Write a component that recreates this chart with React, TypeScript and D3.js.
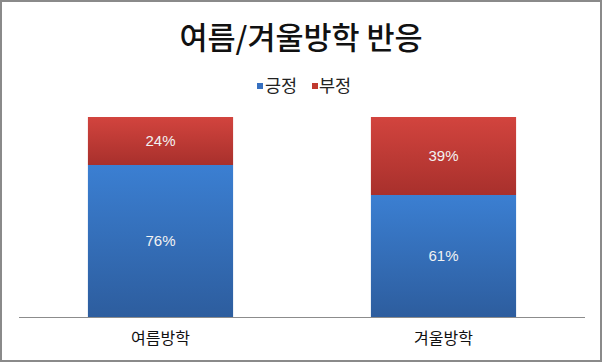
import React from "react";
import * as d3 from "d3";

const categories = ["여름방학", "겨울방학"];
const positive = [0.76, 0.61];
const negative = [0.24, 0.39];
const seriesNames = ["긍정", "부정"];
const title = "여름/겨울방학 반응";

const W = 602;
const H = 362;
const KR = "'Noto Sans CJK KR', 'Noto Sans', sans-serif";

export default function App() {
  const x = d3.scaleBand<string>().domain(categories).range([19, 585]).padding(0);
  const y = d3.scaleLinear().domain([0, 1]).range([317, 117]);
  const barW = x.bandwidth() * 0.513;
  const fmt = d3.format(".0%");

  const stacked = d3
    .stack<{ cat: string; pos: number; neg: number }>()
    .keys(["pos", "neg"])(
      categories.map((c, i) => ({ cat: c, pos: positive[i], neg: negative[i] }))
    );
  const gradIds = ["gBlue", "gRed"];

  return (
    <svg
      width={W}
      height={H}
      style={{ position: "fixed", left: 0, top: 0 }}
      xmlns="http://www.w3.org/2000/svg"
    >
      <defs>
        <linearGradient id="gBlue" x1="0" y1="0" x2="0" y2="1">
          <stop offset="0%" stopColor="#3b7fd2" />
          <stop offset="100%" stopColor="#2d5d9e" />
        </linearGradient>
        <linearGradient id="gRed" x1="0" y1="0" x2="0" y2="1">
          <stop offset="0%" stopColor="#d2443e" />
          <stop offset="100%" stopColor="#a8302c" />
        </linearGradient>
      </defs>
      <rect x={0} y={0} width={W} height={H} fill="#ffffff" />
      <rect x={1} y={1} width={W - 2} height={H - 2} fill="none" stroke="#8a8a8a" strokeWidth={2} />
      <text
        x={301}
        y={49}
        textAnchor="middle"
        fontFamily={KR}
        fontWeight={500}
        fontSize={30.5}
        fill="#111"
      >
        {title}
      </text>
      {/* legend */}
      <g fontFamily={KR} fontSize={17.5} fill="#222">
        <rect x={257} y={83} width={6} height={6} fill="#3670c0" />
        <text x={265} y={92}>{seriesNames[0]}</text>
        <rect x={312} y={83} width={6} height={6} fill="#c0392f" />
        <text x={319} y={92}>{seriesNames[1]}</text>
      </g>
      {stacked.map((layer, li) =>
        layer.map((d, i) => {
          const cx = (x(categories[i]) as number) + x.bandwidth() / 2;
          const y0 = y(d[1]);
          const y1 = y(d[0]);
          return (
            <g key={`${li}-${i}`}>
              <rect
                x={cx - barW / 2}
                y={y0}
                width={barW}
                height={y1 - y0}
                fill={`url(#${gradIds[li]})`}
              />
              <text
                x={cx}
                y={(y0 + y1) / 2 + 5}
                textAnchor="middle"
                fontFamily="'Liberation Sans', Arial, sans-serif"
                fontSize={15}
                fill="#f2f2f2"
              >
                {fmt(d[1] - d[0])}
              </text>
            </g>
          );
        })
      )}
      <line x1={19} x2={585} y1={317.5} y2={317.5} stroke="#8c8c8c" strokeWidth={1} />
      {categories.map((c) => (
        <text
          key={c}
          x={(x(c) as number) + x.bandwidth() / 2}
          y={344}
          textAnchor="middle"
          fontFamily={KR}
          fontSize={16}
          fill="#111"
        >
          {c}
        </text>
      ))}
    </svg>
  );
}
